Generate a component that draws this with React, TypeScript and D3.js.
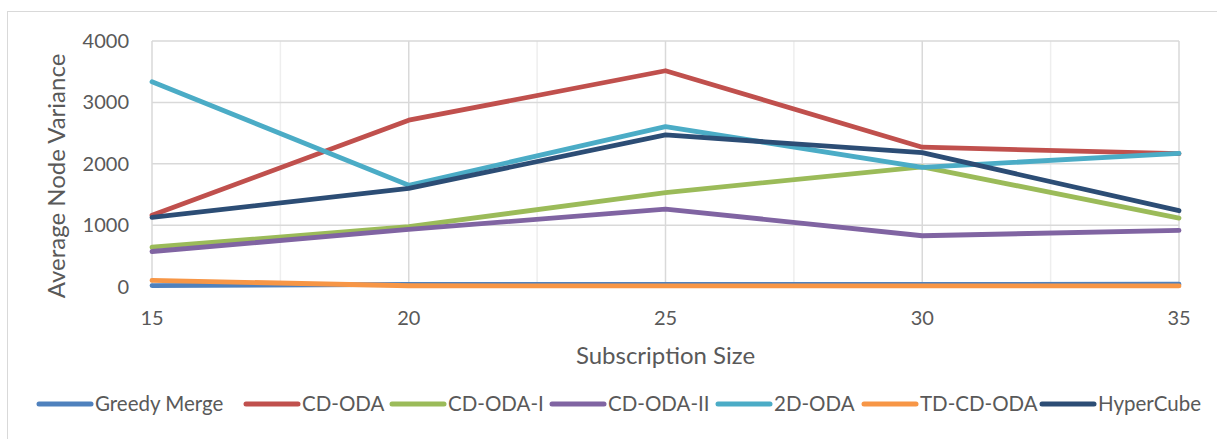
import React from "react";
import * as d3 from "d3";

const categories = [15, 20, 25, 30, 35];
const seriesNames = ["Greedy Merge", "CD-ODA", "CD-ODA-I", "CD-ODA-II", "2D-ODA", "TD-CD-ODA", "HyperCube"];
const greedyMerge = [15, 35, 35, 35, 38];
const cdOda = [1160, 2710, 3515, 2270, 2165];
const cdOdaI = [640, 975, 1530, 1950, 1115];
const cdOdaII = [570, 930, 1262, 827, 915];
const twoDOda = [3335, 1650, 2605, 1940, 2170];
const tdCdOda = [100, 12, 10, 10, 10];
const hyperCube = [1125, 1600, 2470, 2180, 1235];
const yTicks = [0, 1000, 2000, 3000, 4000];
const xGridTicks = [15, 17.5, 20, 22.5, 25, 27.5, 30, 32.5, 35];
const colors = ["#4f81bd", "#c0504d", "#9bbb59", "#8064a2", "#4bacc6", "#f79646", "#2c4d75"];
const seriesValues = [greedyMerge, cdOda, cdOdaI, cdOdaII, twoDOda, tdCdOda, hyperCube];
const legendX = [37, 244, 390, 550, 716, 862, 1040];

const W = 1217;
const H = 439;
const FONT = "Lato, 'Open Sans', sans-serif";

export default function App() {
  const x = d3.scaleLinear().domain([15, 35]).range([152, 1179]);
  const y = d3.scaleLinear().domain([0, 4000]).range([286.5, 41]);
  const line = d3
    .line<number>()
    .x((_, i) => x(categories[i]))
    .y((d) => y(d));

  return (
    <svg
      width={W}
      height={H}
      style={{ position: "absolute", left: 0, top: 0, background: "#fff" }}
      fontFamily={FONT}
    >
      <rect x={0} y={0} width={W} height={H} fill="#fff" />
      <rect x={7.5} y={11.5} width={W + 10} height={H + 10} fill="none" stroke="#d9d9d9" strokeWidth={1} />
      {/* gridlines */}
      {xGridTicks.map((t) => (
        <line
          key={"gx" + t}
          x1={x(t)}
          x2={x(t)}
          y1={y(4000)}
          y2={y(0)}
          stroke={Number.isInteger(t) ? "#d9d9d9" : "#eeeeee"}
          strokeWidth={1.5}
        />
      ))}
      {yTicks.map((t) => (
        <line key={"gy" + t} x1={x(15)} x2={x(35)} y1={y(t)} y2={y(t)} stroke="#d9d9d9" strokeWidth={1.5} />
      ))}
      {/* y tick labels */}
      {yTicks.map((t) => (
        <text
          key={"ty" + t}
          x={129}
          y={y(t)}
          dy="0.35em"
          textAnchor="end"
          fontSize={20}
          fill="#595959"
        >
          {t}
        </text>
      ))}
      {/* x tick labels */}
      {categories.map((c) => (
        <text key={"tx" + c} x={x(c)} y={325} textAnchor="middle" fontSize={20} fill="#595959">
          {c}
        </text>
      ))}
      {/* axis titles */}
      <text x={665.5} y={364} textAnchor="middle" fontSize={24} fill="#595959">
        Subscription Size
      </text>
      <text
        transform={`translate(65,176) rotate(-90)`}
        textAnchor="middle"
        fontSize={24}
        fill="#595959"
      >
        Average Node Variance
      </text>
      {/* series */}
      {seriesValues.map((vals, i) => (
        <path
          key={"s" + i}
          d={line(vals) || ""}
          fill="none"
          stroke={colors[i]}
          strokeWidth={4.8}
          strokeLinejoin="round"
          strokeLinecap="round"
        />
      ))}
      {/* legend */}
      {seriesNames.map((name, i) => (
        <g key={"l" + i}>
          <line
            x1={legendX[i] + 2}
            x2={legendX[i] + 54}
            y1={404}
            y2={404}
            stroke={colors[i]}
            strokeWidth={5}
            strokeLinecap="round"
          />
          <text x={legendX[i] + 58} y={404} dy="0.35em" fontSize={20.5} fill="#595959">
            {name}
          </text>
        </g>
      ))}
    </svg>
  );
}
